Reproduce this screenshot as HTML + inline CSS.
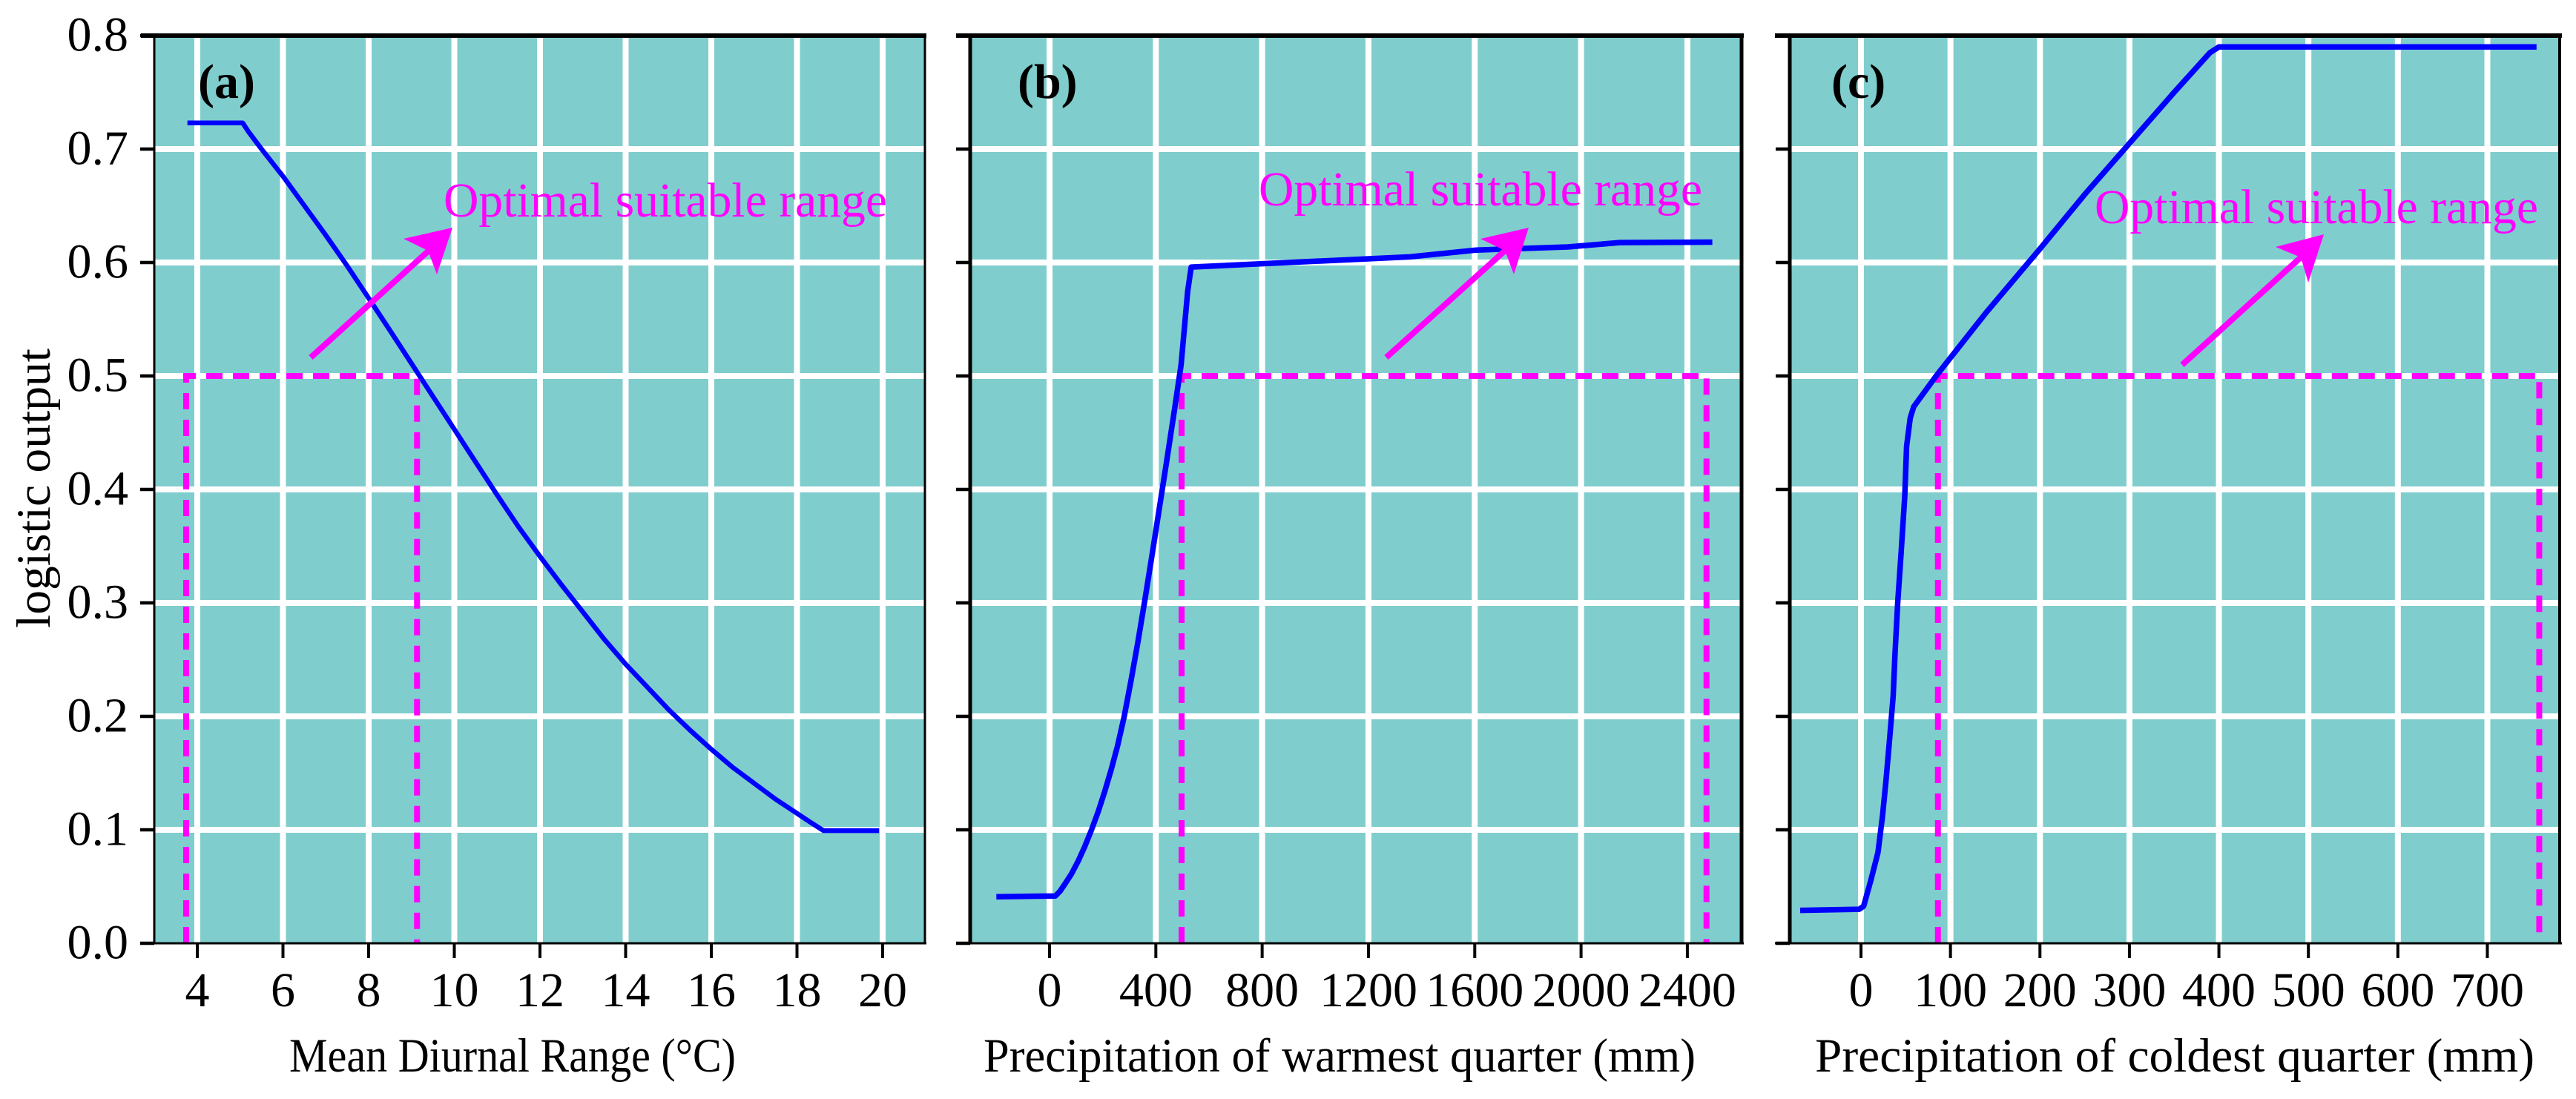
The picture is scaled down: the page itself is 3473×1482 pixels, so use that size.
<!DOCTYPE html>
<html lang="en">
<head>
<meta charset="utf-8">
<title>Species response curves</title>
<style>
html,body{margin:0;padding:0;background:#fff;width:3473px;height:1482px;overflow:hidden}
svg{display:block}
text{font-family:"Liberation Serif","Times New Roman",serif}
</style>
</head>
<body>
<svg id="chart" xmlns="http://www.w3.org/2000/svg" width="3473" height="1482" viewBox="0 0 3473 1482">
  <g id="layer-bg">
    <rect x="208" y="48" width="1039" height="1224" fill="#80cdcd"/>
    <rect x="1308" y="48" width="1040" height="1224" fill="#80cdcd"/>
    <rect x="2413" y="48" width="1038" height="1224" fill="#80cdcd"/>
  </g>
  <g id="layer-grid"></g>
  <g id="layer-range"></g>
  <g id="layer-curve"></g>
  <g id="layer-arrows">
    <g fill="#ff00ff" stroke="#ff00ff">
      <line x1="419" y1="482" x2="578" y2="338" stroke-width="8"/>
      <polygon points="610,307 544,322 577,338 589,370" stroke="none"/>
    </g>
    <g fill="#ff00ff" stroke="#ff00ff">
      <line x1="1869" y1="482" x2="2029" y2="338" stroke-width="8"/>
      <polygon points="2061,307 1996,322 2029,338 2041,370" stroke="none"/>
    </g>
    <g fill="#ff00ff" stroke="#ff00ff">
      <line x1="2942" y1="492" x2="3102" y2="347" stroke-width="8"/>
      <polygon points="3133,316 3068,333 3102,347 3112,381" stroke="none"/>
    </g>
  </g>
  <g id="layer-frame" stroke="#000" fill="none">
    <line x1="190" y1="48" x2="1249" y2="48" stroke-width="6"/>
    <line x1="1289" y1="48" x2="2351" y2="48" stroke-width="6"/>
    <line x1="2393" y1="48" x2="3454" y2="48" stroke-width="6"/>
    <line x1="190" y1="1272" x2="1249" y2="1272" stroke-width="3"/>
    <line x1="1289" y1="1272" x2="2351" y2="1272" stroke-width="3"/>
    <line x1="2393" y1="1272" x2="3454" y2="1272" stroke-width="3"/>
    <line x1="208" y1="48" x2="208" y2="1272" stroke-width="3"/>
    <line x1="1247" y1="48" x2="1247" y2="1272" stroke-width="3"/>
    <line x1="1308" y1="48" x2="1308" y2="1272" stroke-width="5"/>
    <line x1="2348" y1="48" x2="2348" y2="1272" stroke-width="5"/>
    <line x1="2413" y1="48" x2="2413" y2="1272" stroke-width="5"/>
    <line x1="3451" y1="48" x2="3451" y2="1272" stroke-width="4"/>
  </g>
  <g id="layer-ticks"></g>
  <g id="layer-labels" font-size="66" fill="#000"></g>
  <g font-size="65.6" fill="#ff00ff">
    <text x="598" y="292" textLength="598" lengthAdjust="spacingAndGlyphs">Optimal suitable range</text>
    <text x="1697" y="277" textLength="598" lengthAdjust="spacingAndGlyphs">Optimal suitable range</text>
    <text x="2824" y="301" textLength="598" lengthAdjust="spacingAndGlyphs">Optimal suitable range</text>
  </g>
  <g font-size="66" font-weight="bold" fill="#000">
    <text x="267" y="132">(a)</text>
    <text x="1372" y="132">(b)</text>
    <text x="2469" y="132">(c)</text>
  </g>
  <g font-size="65" fill="#000">
    <text transform="translate(67,847) rotate(-90)" textLength="377" lengthAdjust="spacingAndGlyphs">logistic output</text>
    <text x="390" y="1445" textLength="602" lengthAdjust="spacingAndGlyphs">Mean Diurnal Range (°C)</text>
    <text x="1326" y="1445" textLength="960" lengthAdjust="spacingAndGlyphs">Precipitation of warmest quarter (mm)</text>
    <text x="2447" y="1445" textLength="970" lengthAdjust="spacingAndGlyphs">Precipitation of coldest quarter (mm)</text>
  </g>
</svg>
<script>
const yTicks = [0, 0.1, 0.2, 0.3, 0.4, 0.5, 0.6, 0.7, 0.8];
const yTickLabels = ["0.0", "0.1", "0.2", "0.3", "0.4", "0.5", "0.6", "0.7", "0.8"];
const xTicksA = [4, 6, 8, 10, 12, 14, 16, 18, 20];
const xTicksB = [0, 400, 800, 1200, 1600, 2000, 2400];
const xTicksC = [0, 100, 200, 300, 400, 500, 600, 700];

const curveAx = [3.77, 5.06, 5.2, 5.5, 6, 6.5, 7, 7.5, 8, 8.5, 9, 9.5, 10, 10.5, 11, 11.5, 12, 12.5, 13, 13.5, 14, 14.5, 15, 15.5, 16, 16.5, 17, 17.5, 18, 18.3, 18.62, 19.92];
const curveAy = [0.723, 0.723, 0.715, 0.70, 0.676, 0.65, 0.624, 0.597, 0.5686, 0.54, 0.511, 0.482, 0.453, 0.424, 0.395, 0.367, 0.341, 0.316, 0.292, 0.268, 0.246, 0.226, 0.206, 0.188, 0.171, 0.155, 0.141, 0.127, 0.1145, 0.107, 0.0993, 0.0993];

const curveBx = [-200, 22, 40, 60, 82, 107, 132, 158, 183, 208, 232, 256, 281, 307, 332, 357, 385, 407, 440, 470, 495, 520, 533, 1355, 1606, 1950, 2145, 2494];
const curveBy = [0.041, 0.0417, 0.046, 0.053, 0.061, 0.072, 0.085, 0.1, 0.116, 0.134, 0.153, 0.174, 0.2, 0.232, 0.265, 0.3, 0.341, 0.374, 0.424, 0.47, 0.51, 0.575, 0.596, 0.605, 0.611, 0.6137, 0.6176, 0.618];

const curveCx = [-68, -2, 3, 11, 19, 24, 28, 32, 36, 38, 41, 45, 49, 51, 55, 59, 84, 140, 200, 250, 300, 350, 390, 400, 755];
const curveCy = [0.029, 0.030, 0.0327, 0.0555, 0.08, 0.112, 0.144, 0.18, 0.218, 0.254, 0.3, 0.346, 0.395, 0.438, 0.463, 0.473, 0.5, 0.556, 0.612, 0.66, 0.705, 0.75, 0.785, 0.79, 0.79];

const thresholdValue = 0.5;
const rangeA = [3.74, 9.13];
const rangeB = [497, 2472];
const rangeC = [86, 758];

const NS = "http://www.w3.org/2000/svg";
const yScale = v => 1272 - v * 1530;
const xScaleA = v => 266 + (v - 4) * 57.75;
const xScaleB = v => 1415 + v * 0.3583;
const xScaleC = v => 2509 + v * 1.2064;

const panels = [
  {id: "a", x: xScaleA, left: 208, right: 1247, ticks: xTicksA, labelY: true,  cx: curveAx, cy: curveAy, range: rangeA, w: 6.5},
  {id: "b", x: xScaleB, left: 1308, right: 2348, ticks: xTicksB, labelY: false, cx: curveBx, cy: curveBy, range: rangeB, w: 7.5},
  {id: "c", x: xScaleC, left: 2413, right: 3451, ticks: xTicksC, labelY: false, cx: curveCx, cy: curveCy, range: rangeC, w: 7.5}
];

function svgEl(tag, attrs, parent) {
  const el = document.createElementNS(NS, tag);
  for (const k in attrs) el.setAttribute(k, attrs[k]);
  parent.appendChild(el);
  return el;
}

const gridLayer = document.getElementById("layer-grid");
const rangeLayer = document.getElementById("layer-range");
const curveLayer = document.getElementById("layer-curve");
const tickLayer = document.getElementById("layer-ticks");
const labelLayer = document.getElementById("layer-labels");

panels.forEach(function (p) {
  yTicks.forEach(function (v, i) {
    const y = yScale(v);
    if (v > 0 && v < 0.8) {
      const g = svgEl("line", {x1: p.left, x2: p.right, y1: y, y2: y, stroke: "#fff", "stroke-width": 8}, gridLayer);
      
      
    }
    const t = svgEl("line", {x1: p.left - 19, x2: p.left, y1: y, y2: y, stroke: "#000", "stroke-width": 4.5}, tickLayer);
    
    
    if (p.labelY) {
      const l = svgEl("text", {x: 173, y: y + 20.5, "text-anchor": "end"}, labelLayer);
      
      
      l.textContent = yTickLabels[i];
    }
  });

  p.ticks.forEach(function (v) {
    const x = p.x(v);
    const g = svgEl("line", {x1: x, x2: x, y1: 48, y2: 1272, stroke: "#fff", "stroke-width": 8}, gridLayer);
    
    
    const t = svgEl("line", {x1: x, x2: x, y1: 1272, y2: 1292, stroke: "#000", "stroke-width": 4}, tickLayer);
    
    
    const l = svgEl("text", {x: x, y: 1357, "text-anchor": "middle"}, labelLayer);
    
    
    l.textContent = String(v);
  });

  const tY = yScale(thresholdValue);
  const rx0 = p.x(p.range[0]);
  const rx1 = p.x(p.range[1]);
  const dash = svgEl("path", {
    d: "M" + rx0 + " 1272V" + tY + "H" + rx1 + "V1272",
    fill: "none", stroke: "#ff00ff", "stroke-width": 8, "stroke-dasharray": "22 14"
  }, rangeLayer);
  
  

  const pts = p.cx.map(function (v, i) { return p.x(v).toFixed(1) + "," + yScale(p.cy[i]).toFixed(1); }).join(" ");
  const line = svgEl("polyline", {points: pts, fill: "none", stroke: "#0000ff", "stroke-width": p.w, "stroke-linejoin": "round"}, curveLayer);
  
  
});
</script>
</body>
</html>
